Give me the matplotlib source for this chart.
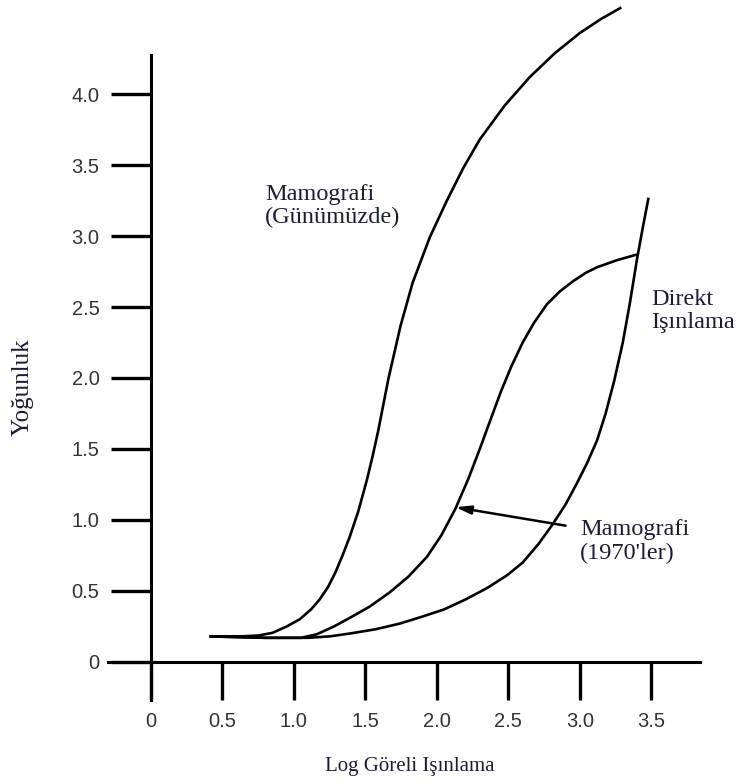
import matplotlib
matplotlib.use("Agg")
import matplotlib.pyplot as plt

# Curve data
x_gunumuz = [0.41, 0.55, 0.65, 0.75, 0.85, 0.95, 1.04, 1.12, 1.18, 1.24, 1.29, 1.34, 1.39, 1.45,
             1.51, 1.55, 1.59, 1.625, 1.66, 1.745, 1.83, 1.95, 2.07, 2.185, 2.30, 2.475, 2.65,
             2.825, 3.00, 3.145, 3.29]
y_gunumuz = [0.18, 0.18, 0.181, 0.186, 0.205, 0.25, 0.30, 0.37, 0.44, 0.53, 0.63, 0.75, 0.88, 1.06,
             1.28, 1.447, 1.63, 1.81, 1.99, 2.364, 2.67, 2.99, 3.25, 3.48, 3.68, 3.92, 4.12,
             4.288, 4.43, 4.527, 4.61]

x_1970 = [0.41, 0.80, 1.00, 1.05, 1.16, 1.28, 1.39, 1.53, 1.67, 1.80, 1.93, 2.03, 2.13, 2.22, 2.30,
          2.38, 2.45, 2.52, 2.60, 2.68, 2.77, 2.86, 2.95, 3.04, 3.12, 3.26, 3.40]
y_1970 = [0.18, 0.17, 0.17, 0.17, 0.195, 0.25, 0.31, 0.39, 0.49, 0.60, 0.74, 0.89, 1.08, 1.29, 1.50,
          1.72, 1.91, 2.08, 2.25, 2.39, 2.52, 2.61, 2.68, 2.74, 2.78, 2.83, 2.87]

x_direkt = [0.41, 0.80, 1.10, 1.25, 1.39, 1.57, 1.74, 1.90, 2.05, 2.20, 2.35, 2.49, 2.60, 2.71,
            2.81, 2.90, 2.98, 3.05, 3.12, 3.18, 3.24, 3.30, 3.35, 3.40, 3.44, 3.48]
y_direkt = [0.18, 0.17, 0.17, 0.18, 0.20, 0.23, 0.27, 0.32, 0.37, 0.44, 0.52, 0.61, 0.70, 0.83,
            0.97, 1.11, 1.26, 1.40, 1.56, 1.75, 1.98, 2.25, 2.53, 2.84, 3.06, 3.27]

x_ticks = [0, 0.5, 1.0, 1.5, 2.0, 2.5, 3.0, 3.5]
x_ticklabels = ["0", "0.5", "1.0", "1.5", "2.0", "2.5", "3.0", "3.5"]
y_ticks = [0, 0.5, 1.0, 1.5, 2.0, 2.5, 3.0, 3.5, 4.0]
y_ticklabels = ["0", "0.5", "1.0", "1.5", "2.0", "2.5", "3.0", "3.5", "4.0"]

xlabel = "Log Göreli Işınlama"
ylabel = "Yoğunluk"
label_gunumuz = "Mamografi\n(Günümüzde)"
label_1970 = "Mamografi\n(1970'ler)"
label_direkt = "Direkt\nIşınlama"

text_color = "#1c1c38"
serif = ["Liberation Serif", "DejaVu Serif"]
sans = ["Liberation Sans", "DejaVu Sans"]

fig = plt.figure(figsize=(7.41, 7.83), dpi=100)
ax = fig.add_axes([108 / 741, 1 - 700 / 783, (700 - 108) / 741, (700 - 55) / 783])
ax.set_xlim(-0.30, 3.84)
ax.set_ylim(-0.268, 4.275)

lw = 1.9
for xs, ys in [(x_gunumuz, y_gunumuz), (x_1970, y_1970), (x_direkt, y_direkt)]:
    ax.plot(xs, ys, color="black", lw=lw, clip_on=False, solid_capstyle="butt",
            solid_joinstyle="round")

for s in ["top", "right"]:
    ax.spines[s].set_visible(False)
ax.spines["left"].set_position(("data", 0))
ax.spines["bottom"].set_position(("data", 0))
ax.spines["left"].set_linewidth(2.2)
ax.spines["bottom"].set_linewidth(2.2)

ax.set_xticks(x_ticks)
ax.set_xticklabels(x_ticklabels, fontfamily=sans, fontsize=14.5, color="#333333")
ax.set_yticks(y_ticks)
ax.set_yticklabels(y_ticklabels, fontfamily=sans, fontsize=14.5, color="#333333")
ax.tick_params(axis="x", direction="out", length=27, width=2.4, pad=9)
ax.tick_params(axis="y", direction="out", length=29, width=2.4, pad=8)

# annotations
ax.text(0.80, 3.21, label_gunumuz, fontfamily=serif, fontsize=17.5, color=text_color,
        va="center", ha="left", linespacing=1.15)
ax.text(3.50, 2.47, label_direkt, fontfamily=serif, fontsize=17.5, color=text_color,
        va="center", ha="left", linespacing=1.15)
ax.text(3.00, 0.85, label_1970, fontfamily=serif, fontsize=17.5, color=text_color,
        va="center", ha="left", linespacing=1.15, clip_on=False)
ax.annotate("", xy=(2.13, 1.09), xytext=(2.90, 0.96),
            arrowprops=dict(arrowstyle="-|>,head_length=0.9,head_width=0.25",
                            color="black", lw=1.8, shrinkA=0, shrinkB=0))

fig.text(410 / 741, 1 - 766 / 783, xlabel, fontfamily=serif, fontsize=15, color=text_color,
         ha="center", va="center")
fig.text(23 / 741, 1 - 387 / 783, ylabel, fontfamily=serif, fontsize=18, color=text_color,
         ha="center", va="center", rotation=90)

fig.savefig("out.png", dpi=100, facecolor="white")
